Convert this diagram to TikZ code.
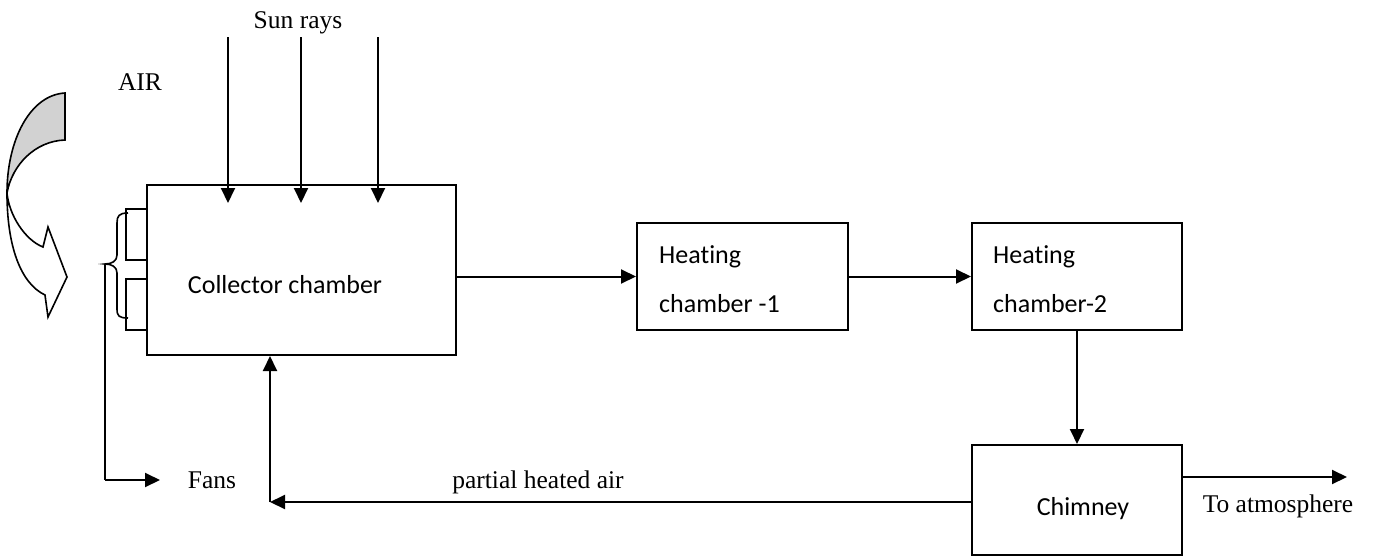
\documentclass[tikz,border=0pt]{standalone}
\usepackage{fontspec}
\setmainfont{Liberation Serif}
\newfontfamily\calibri[Ligatures=NoCommon]{Carlito}
\usetikzlibrary{arrows.meta}
\begin{document}
\begin{tikzpicture}[x=1pt,y=-1pt,
  box/.style={draw,line width=2pt,inner sep=0pt},
  arr/.style={line width=2pt,-{Triangle[length=15pt,width=14pt]}},
  ln/.style={line width=2pt},
  sans/.style={font=\calibri\fontsize{26}{49}\selectfont,inner sep=0pt},
  serif/.style={font=\fontsize{25.5}{30}\selectfont,inner sep=0pt}]
\useasboundingbox (0,0) rectangle (1379,557);
% boxes
\node[box,minimum width=309pt,minimum height=170pt] (coll) at (301.5,270) {};
\node[box,minimum width=211pt,minimum height=107pt] (h1) at (742.5,276.5) {};
\node[box,minimum width=210pt,minimum height=107pt] (h2) at (1077,276.5) {};
\node[box,minimum width=210pt,minimum height=110pt] (chim) at (1077,500) {};
% texts
\node[sans,anchor=base] (tcoll) at (285,293) {Collector chamber};
\node[sans,anchor=north west,align=left] (th1) at (659,245) {Heating\\chamber -1};
\node[sans,anchor=north west,align=left] (th2) at (993,245) {Heating\\chamber-2};
\node[sans,anchor=base] (tchim) at (1083,515) {Chimney};
\node[serif,anchor=base] (tatm) at (1278,512) {To atmosphere};
\node[serif,anchor=base] (tsun) at (298,28) {Sun rays};
\node[serif,anchor=base] (tair) at (140,90) {AIR};
\node[serif,anchor=base] (tfans) at (212,488) {Fans};
\node[serif,anchor=base] (tpart) at (538,488) {partial heated air};
% sun rays
\coordinate (r1) at (228,37); \coordinate (r1e) at (228,203);
\coordinate (r2) at (301,37); \coordinate (r2e) at (301,203);
\coordinate (r3) at (378,37); \coordinate (r3e) at (378,203);
\draw[arr] (r1) -- (r1e);
\draw[arr] (r2) -- (r2e);
\draw[arr] (r3) -- (r3e);
% flow arrows
\draw[arr] (coll.east |- h1.west) -- (h1.west);
\draw[arr] (h1.east) -- (h2.west);
\draw[arr] (h2.south) -- (chim.north);
\coordinate (atm) at (1347,477);
\draw[arr] (chim.east |- atm) -- (atm);
\coordinate (ret) at (270,502);
\draw[arr] (chim.west |- ret) -- (ret);
\draw[arr] (ret) -- (coll.south -| ret);
% fans
\coordinate (btip) at (105,264);
\coordinate (fc) at (105,480);
\coordinate (fe) at (160,480);
\draw[ln] (btip) -- (fc);
\draw[arr] (fc) -- (fe);
% tabs
\draw[ln] (147,209) -- (126,209) -- (126,260) -- (147,260);
\draw[ln] (147,279) -- (126,279) -- (126,330) -- (147,330);
% brace
\draw[line width=1.6pt] (128,213) .. controls (119,213) and (117,216) .. (117,223) -- (117,255)
  .. controls (117,261) and (112,264) .. (btip)
  .. controls (112,264) and (117,267) .. (117,273) -- (117,309)
  .. controls (117,316) and (119,318) .. (128,318);
% curved air arrow
\draw[line width=1.6pt,fill=gray!35] (65,93) .. controls (30,95) and (7,140) .. (7,193)
  .. controls (12,165) and (35,141) .. (65,140) -- cycle;
\draw[line width=1.6pt,fill=white] (7,193) .. controls (9,215) and (25,240) .. (43,247)
  -- (48,227) -- (67,277) -- (48,317) -- (45,295)
  .. controls (20,283) and (7,245) .. (7,193);
\end{tikzpicture}
\end{document}
